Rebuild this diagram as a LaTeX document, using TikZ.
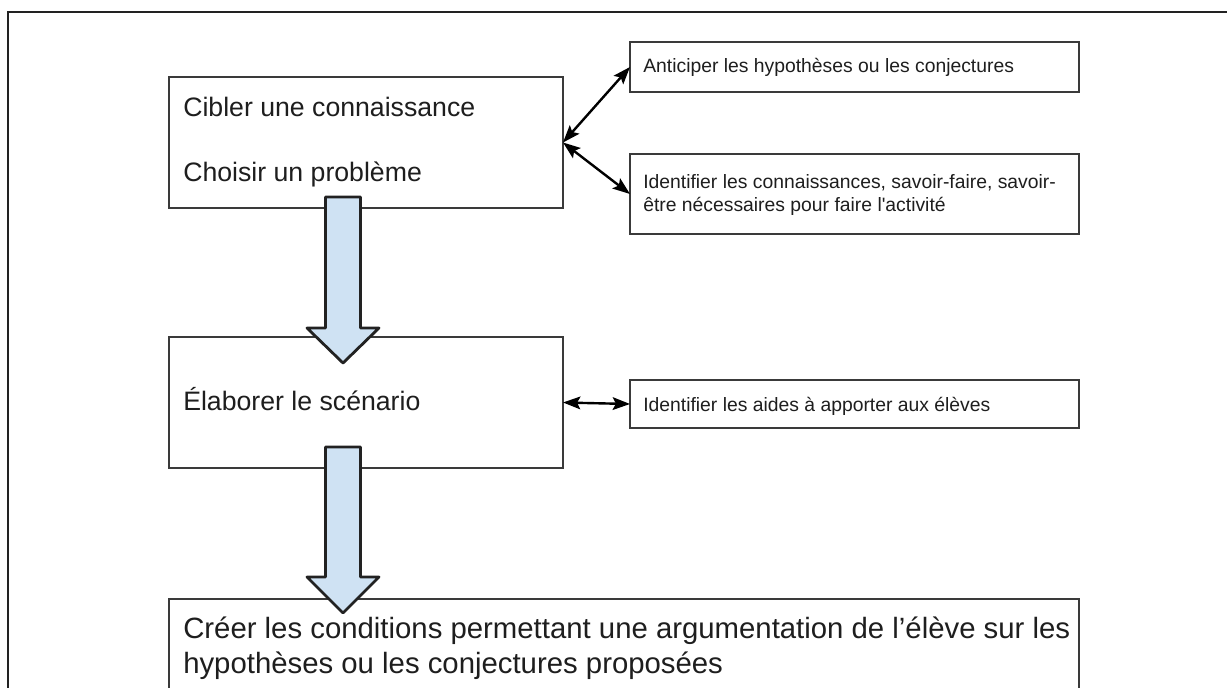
\documentclass[tikz,border=0pt]{standalone}
\usepackage{fontspec}
\setmainfont{Liberation Sans}
\usetikzlibrary{arrows.meta,calc}
\definecolor{boxgray}{HTML}{3A3A3A}
\definecolor{framegray}{HTML}{222222}
\definecolor{arrowblue}{HTML}{CFE2F3}
\definecolor{txt}{HTML}{1E1E1E}
\begin{document}
\begin{tikzpicture}[x=0.75pt,y=-0.75pt,
  rbox/.style={draw=boxgray, line width=1.2pt, inner sep=0pt, outer sep=0pt, anchor=north west},
  bigtxt/.style={anchor=base west, inner sep=0pt, text=txt, font=\fontsize{20}{24}\selectfont},
  bottxt/.style={anchor=base west, inner sep=0pt, text=txt, align=left, font=\fontsize{22}{26.2}\selectfont},
  smalltxt/.style={anchor=base west, inner sep=0pt, text=txt, align=left, font=\fontsize{14.5}{17.2}\selectfont},
  dbl/.style={draw=black, line width=1.8pt, {Stealth[length=13pt,width=9.5pt,inset=2.5pt]}-{Stealth[length=13pt,width=9.5pt,inset=2.5pt]}},
  blk/.style={draw=framegray, fill=arrowblue, line width=2.1pt, line join=round}]
\useasboundingbox (0,0) rectangle (1227,688);
\clip (0,0) rectangle (1227,688);
\fill[white] (0,0) rectangle (1227,688);
% outer frame (cut by the page on the right and at the bottom)
\draw[draw=framegray, line width=1.8pt] (8,12) rectangle (1300,760);

% boxes
\node[rbox, minimum width=295.5pt, minimum height=98.25pt] (box1) at (169,77) {};
\node[rbox, minimum width=295.5pt, minimum height=98.25pt] (box2) at (169,337) {};
\node[rbox, minimum width=336.75pt, minimum height=37.5pt] (boxA) at (630,42) {};
\node[rbox, minimum width=336.75pt, minimum height=60pt] (boxB) at (630,154) {};
\node[rbox, minimum width=336.75pt, minimum height=36pt] (boxC) at (630,380) {};
\node[rbox, minimum width=682.5pt, minimum height=90.75pt] (box3) at (169,599) {};

% texts (multi-line nodes are placed by the baseline of their last line)
\node[bigtxt] (t1a) at (183,117) {Cibler une connaissance};
\node[bigtxt] (t1b) at (183,181) {Choisir un problème};
\node[bigtxt] (t2) at (183,410) {Élaborer le scénario};
\node[smalltxt] (tA) at (643,73) {Anticiper les hypothèses ou les conjectures};
\node[smalltxt] (tB) at (643,211) {Identifier les connaissances, savoir-faire, savoir-\\être nécessaires pour faire l\textquotesingle activité};
\node[smalltxt] (tC) at (643,411) {Identifier les aides à apporter aux élèves};
\node[bottxt] (t3) at (183,673) {Créer les conditions permettant une argumentation de l’élève sur les\\hypothèses ou les conjectures proposées};

% double arrows
\draw[dbl] (box1.east) -- (boxA.west);
\draw[dbl] (box1.east) -- (boxB.west);
\draw[dbl] (box2.east) -- (boxC.west);

% block arrows
\coordinate (a1s) at (343,197);
\coordinate (a1t) at (343,363);
\coordinate (a2s) at (343,447);
\coordinate (a2t) at (343,613);
\draw[blk] ($(a1s)+(-17.5,0)$) -- ($(a1s)+(17.5,0)$) -- ($(a1t)+(17.5,-35)$) -- ($(a1t)+(36,-35)$) -- (a1t)
  -- ($(a1t)+(-36,-35)$) -- ($(a1t)+(-17.5,-35)$) -- cycle;
\draw[blk] ($(a2s)+(-17.5,0)$) -- ($(a2s)+(17.5,0)$) -- ($(a2t)+(17.5,-36)$) -- ($(a2t)+(36,-36)$) -- (a2t)
  -- ($(a2t)+(-36,-36)$) -- ($(a2t)+(-17.5,-36)$) -- cycle;
\end{tikzpicture}
\end{document}
